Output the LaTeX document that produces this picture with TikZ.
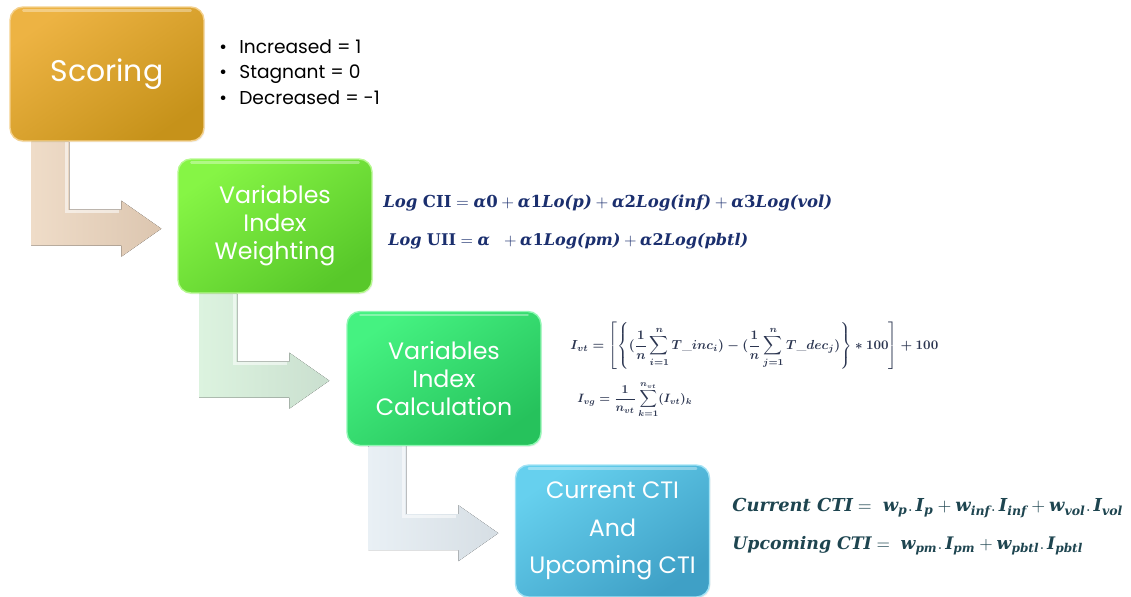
\documentclass[tikz,border=0pt]{standalone}
\usepackage{amsmath,bm,graphicx}
\usepackage{fontspec}
\newfontfamily\labelfont{Poppins}
\newfontfamily\eqfont{DejaVu Serif}
\usetikzlibrary{calc,shadows}
\pgfdeclarelayer{background}
\pgfsetlayers{background,main}

% heavy serif pieces used inside the weighting and index equations
\newcommand\ebi[1]{\text{\eqfont\bfseries\itshape #1}}
\newcommand\ebu[1]{\text{\eqfont\bfseries #1}}

\definecolor{orA}{HTML}{EDB343}
\definecolor{orB}{HTML}{C6921A}
\definecolor{grA}{HTML}{86F545}
\definecolor{grB}{HTML}{58C82A}
\definecolor{emA}{HTML}{45F281}
\definecolor{emB}{HTML}{26C25C}
\definecolor{blA}{HTML}{66D0EE}
\definecolor{blB}{HTML}{3FA0C6}
\definecolor{navy}{HTML}{1B2F6E}
\definecolor{slate}{HTML}{2B3550}
\definecolor{teal}{HTML}{1E4550}
\definecolor{tanA}{HTML}{EFDCC8}
\definecolor{tanB}{HTML}{DCC6B0}
\definecolor{mintA}{HTML}{DCF3DF}
\definecolor{mintB}{HTML}{CADFCF}
\definecolor{mistA}{HTML}{E9F0F5}
\definecolor{mistB}{HTML}{D6DEE4}

% bent connector drawn below a box: stem down, then right to an arrow tip
\newcommand\bentarrow[3]{%
  \fill[left color=#2,right color=#3] (#1) -- ++(0,104) -- ++(90,0) -- ++(0,11)
    -- ++(40,-28) -- ++(-40,-28) -- ++(0,9) -- ++(-52,0) -- ++(0,-68) -- cycle;
  \draw[white,opacity=0.55,line width=1.6pt] ($(#1)+(35,0)$) -- ++(0,70) -- ++(53,0);
}

\tikzset{
  stepbox/.style={rectangle, rounded corners=0.26cm, minimum width=3.88cm,
    minimum height=2.68cm, text=white, align=center, font=\labelfont\fontsize{13.5}{16}\selectfont,
    drop shadow={opacity=0.12, shadow xshift=0.6pt, shadow yshift=-0.8pt}},
  boxcol/.style 2 args={top color=#1, bottom color=#2, shading angle=35,
    draw=#1!60!white, line width=0.8pt},
  gloss/.style={white, opacity=0.35, line width=1.4pt, line cap=round},
}

\begin{document}
\begin{tikzpicture}[x=0.02cm,y=-0.02cm]
\useasboundingbox (0,0) rectangle (1131,597);

% step boxes
\node[stepbox, boxcol={orA}{orB}, font=\labelfont\fontsize{17}{20}\selectfont] (score) at (107,74) {Scoring};
\node[stepbox, boxcol={grA}{grB}] (weight) at (275,226) {Variables\\Index\\Weighting};
\node[stepbox, boxcol={emA}{emB}] (calc) at (444,378.5) {Variables\\Index\\Calculation};
\node[stepbox, boxcol={blA}{blB}, minimum height=2.64cm, font=\labelfont\fontsize{13.5}{21.4}\selectfont] (cti) at (612.5,531) {Current CTI\\And\\Upcoming CTI};

% glossy highlight along the top edge of each box
\foreach \b in {score,weight,calc,cti}
  \draw[gloss] ($(\b.north west)+(14,4)$) -- ($(\b.north east)+(-14,4)$);

% connectors between consecutive steps, behind the boxes
\coordinate (a1) at ($(score.south west)+(22,0)$);
\coordinate (a2) at ($(weight.south west)+(22,0)$);
\coordinate (a3) at ($(calc.south west)+(22,0)$);
\begin{pgfonlayer}{background}
\bentarrow{a1}{tanA}{tanB}
\bentarrow{a2}{mintA}{mintB}
\bentarrow{a3}{mistA}{mistB}
\end{pgfonlayer}

% scoring rules
\node[anchor=west, align=left, font=\labelfont\fontsize{10.6}{14.4}\selectfont, inner sep=0pt] (rules) at (219,72)
  {•\hspace{7pt}Increased = 1\\ •\hspace{7pt}Stagnant = 0\\ •\hspace{7pt}Decreased = -1};

% weighting equations
\node[anchor=west, inner sep=0pt, text=navy] (f1) at (383,203)
  {\resizebox{8.98cm}{!}{$\ebi{Log}\ \ebu{CII} = \ebi{α}\ebu{0} + \ebi{α}\ebu{1}\ebi{Lo(p)} + \ebi{α}\ebu{2}\ebi{Log(inf)} + \ebi{α}\ebu{3}\ebi{Log(vol)}$}};
\node[anchor=west, inner sep=0pt, text=navy] (f2) at (388,241)
  {\resizebox{7.2cm}{!}{$\ebi{Log}\ \ebu{UII} = \ebi{α}\ \ + \ebi{α}\ebu{1}\ebi{Log(pm)} + \ebi{α}\ebu{2}\ebi{Log(pbtl)}$}};

% calculation equations
\node[anchor=west, inner sep=0pt, text=slate] (f3) at (570,346)
  {\resizebox{7.36cm}{!}{\boldmath$I_{vt} = \left[\left\{(\dfrac{1}{n}\displaystyle\sum_{i=1}^{n} T\_inc_i) - (\dfrac{1}{n}\displaystyle\sum_{j=1}^{n} T\_dec_j)\right\} * 100\right] + 100$}};
\node[anchor=west, inner sep=0pt, text=slate] (f4) at (577,400)
  {\resizebox{2.3cm}{!}{\boldmath$I_{vg} = \dfrac{1}{n_{vt}}\displaystyle\sum_{k=1}^{n_{vt}} (I_{vt})_k$}};

% index equations
\node[anchor=west, inner sep=0pt, text=teal] (f5) at (732,508)
  {\resizebox{7.82cm}{!}{$\ebi{Current CTI} =\ \ebi{w}_{\ebi{p}}{.}\,\ebi{I}_{\ebi{p}} + \ebi{w}_{\ebi{inf}}{.}\,\ebi{I}_{\ebi{inf}} + \ebi{w}_{\ebi{vol}}{.}\,\ebi{I}_{\ebi{vol}}$}};
\node[anchor=west, inner sep=0pt, text=teal] (f6) at (732,546)
  {\resizebox{7.02cm}{!}{$\ebi{Upcoming CTI} =\ \ebi{w}_{\ebi{pm}}{.}\,\ebi{I}_{\ebi{pm}} + \ebi{w}_{\ebi{pbtl}}{.}\,\ebi{I}_{\ebi{pbtl}}$}};
\end{tikzpicture}
\end{document}
